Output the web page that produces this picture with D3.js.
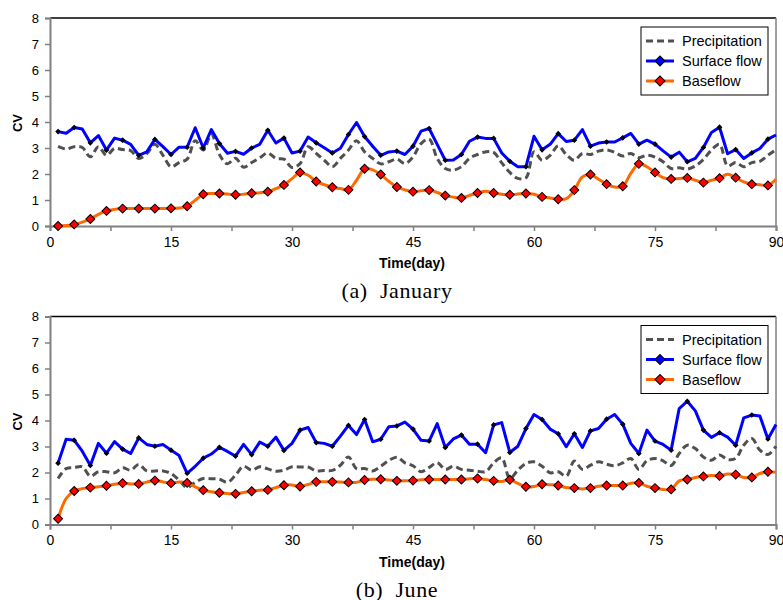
<!DOCTYPE html>
<html>
<head>
<meta charset="utf-8">
<script src="https://cdn.jsdelivr.net/npm/d3@7"></script>
<style>
  body { margin: 0; background: #fff; }
  svg { display: block; }
  .tick text { font-family: "Liberation Sans", Arial, sans-serif; }
  .caption { white-space: pre; }
</style>
</head>
<body>
<div id="plot"></div>
<script>
// ---- data (one value per day, day 1..90) ----
var xTicks = [0, 15, 30, 45, 60, 75, 90];
var yTicks = [0, 1, 2, 3, 4, 5, 6, 7, 8];
var seriesNames = ["Precipitation", "Surface flow", "Baseflow"];
var captions = ["(a)  January", "(b)  June"];

var janPrecip = [3.06,2.96,3.05,3.02,2.66,3.05,2.72,2.98,2.94,2.9,
  2.6,2.78,3.14,2.72,2.28,2.44,2.57,3.28,2.92,3.53,
  2.75,2.39,2.61,2.26,2.44,2.62,2.81,2.6,2.57,2.25,
  2.4,3.05,2.79,2.53,2.28,2.6,2.92,3.28,2.85,2.6,
  2.39,2.47,2.57,2.4,2.66,3.17,3.34,2.6,2.21,2.15,
  2.28,2.6,2.75,2.85,2.83,2.43,2.06,1.83,1.85,2.85,
  2.53,2.72,3.08,2.75,2.53,2.79,2.75,2.88,2.93,2.83,
  2.69,2.79,2.63,2.72,2.65,2.47,2.21,2.24,2.19,2.31,
  2.56,2.92,3.14,2.31,2.44,2.28,2.44,2.49,2.72,2.94];

var janSurface = [3.63,3.57,3.79,3.73,3.2,3.48,2.92,3.38,3.3,3.14,
  2.72,2.85,3.33,3.05,2.75,3.03,3.03,3.78,3.0,3.71,
  3.17,2.8,2.87,2.76,3.0,3.14,3.68,3.19,3.38,2.81,
  2.88,3.42,3.2,3.01,2.81,2.99,3.52,3.98,3.44,3.07,
  2.72,2.85,2.88,2.75,3.07,3.65,3.75,3.14,2.53,2.54,
  2.75,3.26,3.42,3.37,3.37,2.81,2.49,2.28,2.28,3.45,
  2.93,3.14,3.55,3.25,3.3,3.71,3.07,3.19,3.23,3.23,
  3.39,3.56,3.15,3.3,3.15,2.89,2.65,2.84,2.47,2.6,
  3.02,3.6,3.8,2.78,2.94,2.6,2.81,2.98,3.34,3.5];

var janBase = [0.0,0.02,0.06,0.15,0.27,0.45,0.58,0.64,0.67,0.67,
  0.67,0.67,0.67,0.67,0.68,0.69,0.76,0.99,1.22,1.25,
  1.25,1.23,1.2,1.22,1.26,1.28,1.32,1.44,1.58,1.82,
  2.06,1.95,1.71,1.59,1.49,1.44,1.39,1.76,2.2,2.16,
  1.98,1.72,1.5,1.39,1.32,1.36,1.38,1.29,1.17,1.11,
  1.08,1.18,1.27,1.34,1.27,1.22,1.2,1.23,1.25,1.22,
  1.12,1.08,1.03,1.05,1.38,1.89,1.98,1.8,1.61,1.5,
  1.53,2.02,2.39,2.28,2.06,1.86,1.81,1.83,1.85,1.76,
  1.67,1.76,1.84,1.99,1.86,1.7,1.61,1.59,1.56,1.8];

var junPrecip = [1.77,2.15,2.19,2.22,1.86,2.03,2.03,1.99,2.18,2.09,
  2.31,2.06,2.06,2.06,1.96,1.71,1.42,1.62,1.77,1.76,
  1.74,1.62,1.9,2.24,2.09,2.22,2.14,2.05,2.09,2.22,
  2.21,2.21,2.06,2.08,2.08,2.28,2.6,2.15,2.15,2.06,
  2.24,2.46,2.59,2.37,2.26,2.03,2.19,2.38,2.12,2.24,
  2.12,2.09,2.05,2.03,2.37,2.56,1.77,2.09,2.35,2.41,
  2.24,1.99,2.03,1.86,2.44,2.12,2.28,2.41,2.32,2.26,
  2.37,2.54,2.12,2.45,2.54,2.45,2.27,2.73,3.05,2.92,
  2.6,2.47,2.67,2.5,2.54,3.05,3.31,2.86,2.69,3.01];

var junSurface = [2.36,3.28,3.24,2.82,2.27,3.12,2.74,3.19,2.9,2.73,
  3.33,3.08,3.01,3.08,2.86,2.65,1.97,2.24,2.55,2.71,
  2.97,2.81,2.63,3.08,2.69,3.17,3.01,3.36,2.85,3.12,
  3.63,3.73,3.15,3.12,3.01,3.4,3.81,3.46,4.04,3.18,
  3.28,3.76,3.79,3.94,3.67,3.24,3.21,3.88,2.96,3.29,
  3.44,3.09,3.09,2.76,3.83,3.92,2.77,3.01,3.69,4.23,
  4.04,3.67,3.49,2.99,3.49,2.96,3.6,3.69,4.05,4.23,
  3.86,3.12,2.73,3.63,3.21,3.08,2.86,4.46,4.74,4.37,
  3.63,3.35,3.53,3.36,3.05,4.1,4.21,4.17,3.29,3.85];

var junBase = [0.22,1.0,1.29,1.38,1.42,1.45,1.49,1.55,1.59,1.56,
  1.56,1.63,1.69,1.64,1.59,1.63,1.6,1.45,1.32,1.26,
  1.22,1.19,1.18,1.23,1.28,1.32,1.33,1.42,1.51,1.52,
  1.46,1.54,1.64,1.64,1.64,1.63,1.62,1.62,1.71,1.74,
  1.74,1.71,1.68,1.68,1.69,1.72,1.73,1.73,1.73,1.73,
  1.73,1.76,1.77,1.73,1.68,1.65,1.72,1.58,1.45,1.46,
  1.55,1.53,1.5,1.42,1.4,1.37,1.4,1.47,1.5,1.5,
  1.5,1.59,1.6,1.47,1.4,1.35,1.35,1.68,1.73,1.81,
  1.85,1.88,1.87,1.94,1.92,1.81,1.81,1.96,2.03,2.01];

var svgWidth = 783;
var svgHeight = 600;

var svg = d3.select("#plot")
  .append("svg")
  .attr("width", svgWidth)
  .attr("height", svgHeight);

var colors = {precip: "#505050", surface: "#0000ff", base: "#ff6a00", baseMark: "#ff0000"};

function drawPanel(top, precip, surface, base, caption) {
  var left = 50, right = 776, height = 208;
  var g = svg.append("g").attr("transform", `translate(0, ${top})`);

  var x = d3.scaleLinear().domain([0, 90]).range([left, right]);
  var y = d3.scaleLinear().domain([0, 8]).range([height, 0]);

  // frame
  g.append("line").attr("x1", left).attr("x2", right).attr("y1", 0).attr("y2", 0)
    .attr("stroke", "#000").attr("stroke-width", 1.5);
  g.append("line").attr("x1", right).attr("x2", right).attr("y1", 0).attr("y2", height)
    .attr("stroke", "#808080").attr("stroke-width", 1.5);

  // axes
  var yAxis = d3.axisLeft(y).tickValues(yTicks).tickSize(5).tickPadding(6).tickFormat(d3.format("d"));
  var xAxis = d3.axisBottom(x).tickValues(d3.range(0, 90.1, 7.5)).tickSize(5).tickPadding(6)
    .tickFormat(d => xTicks.indexOf(d) >= 0 ? d : "");

  var ya = g.append("g").attr("transform", `translate(${left},0)`).call(yAxis);
  var xa = g.append("g").attr("transform", `translate(0,${height})`).call(xAxis);
  [ya, xa].forEach(a => {
    a.select(".domain").attr("stroke", "#808080").attr("stroke-width", 2);
    a.selectAll(".tick line").attr("stroke", "#808080").attr("stroke-width", 1.5);
    a.selectAll(".tick text").attr("fill", "#000").attr("font-size", 14);
  });
  ya.selectAll(".tick text").attr("font-size", 13);

  var days = precip.map((v, i) => i + 1);

  var smooth = d3.line().x((d, i) => x(days[i])).y(d => y(d)).curve(d3.curveCatmullRom.alpha(0.5));
  var straight = d3.line().x((d, i) => x(days[i])).y(d => y(d));

  // precipitation (dashed)
  g.append("path").datum(precip).attr("d", smooth)
    .attr("fill", "none").attr("stroke", colors.precip).attr("stroke-width", 3)
    .attr("stroke-dasharray", "7,4");

  // surface flow
  g.append("path").datum(surface).attr("d", straight)
    .attr("fill", "none").attr("stroke", colors.surface).attr("stroke-width", 3)
    .attr("stroke-linejoin", "round");

  g.selectAll(".sfMark").data(surface.filter((d, i) => i % 2 == 0)).enter()
    .append("path")
    .attr("class", "sfMark")
    .attr("d", d3.symbol().type(d3.symbolSquare).size(9))
    .attr("transform", (d, i) => `translate(${x(i * 2 + 1)},${y(d)}) rotate(45)`)
    .attr("fill", "#000033").attr("stroke", "#000").attr("stroke-width", 1);

  // baseflow
  g.append("path").datum(base).attr("d", smooth)
    .attr("fill", "none").attr("stroke", colors.base).attr("stroke-width", 3);

  g.selectAll(".bfMark").data(base.filter((d, i) => i % 2 == 0)).enter()
    .append("path")
    .attr("class", "bfMark")
    .attr("d", d3.symbol().type(d3.symbolSquare).size(40))
    .attr("transform", (d, i) => `translate(${x(i * 2 + 1)},${y(d)}) rotate(45)`)
    .attr("fill", colors.baseMark).attr("stroke", "#000").attr("stroke-width", 1);

  // labels
  g.append("text")
    .attr("transform", `translate(22, ${height / 2 + 1}) rotate(-90)`)
    .attr("text-anchor", "middle")
    .attr("font-family", "Liberation Sans, Arial, sans-serif")
    .attr("font-weight", "bold").attr("font-size", 13)
    .text("CV");

  g.append("text")
    .attr("x", 412).attr("y", height + 42)
    .attr("text-anchor", "middle")
    .attr("font-family", "Liberation Sans, Arial, sans-serif")
    .attr("font-weight", "bold").attr("font-size", 14)
    .text("Time(day)");

  g.append("text")
    .attr("class", "caption")
    .attr("x", 397).attr("y", height + 72)
    .attr("text-anchor", "middle")
    .attr("font-family", "Liberation Serif, DejaVu Serif, serif")
    .attr("font-size", 22)
    .attr("letter-spacing", 0.6)
    .text(caption);

  // legend
  var lg = g.append("g").attr("transform", "translate(641, 9)");
  lg.append("rect").attr("width", 127).attr("height", 68)
    .attr("fill", "#fff").attr("stroke", "#000").attr("stroke-width", 1);

  var rows = [
    {name: seriesNames[0], color: colors.precip, dash: "7,4", mark: null},
    {name: seriesNames[1], color: colors.surface, dash: null, mark: colors.surface},
    {name: seriesNames[2], color: colors.base, dash: null, mark: colors.baseMark}
  ];
  rows.forEach((r, i) => {
    var yy = 14 + i * 20;
    lg.append("line").attr("x1", 5).attr("x2", 33).attr("y1", yy).attr("y2", yy)
      .attr("stroke", r.color).attr("stroke-width", 3)
      .attr("stroke-dasharray", r.dash);
    if (r.mark) {
      lg.append("path")
        .attr("d", d3.symbol().type(d3.symbolSquare).size(50))
        .attr("transform", `translate(19,${yy}) rotate(45)`)
        .attr("fill", r.mark).attr("stroke", "#000").attr("stroke-width", 1);
    }
    lg.append("text").attr("x", 41).attr("y", yy + 5)
      .attr("font-family", "Liberation Sans, Arial, sans-serif")
      .attr("font-size", 14.5)
      .text(r.name);
  });
}

drawPanel(18, janPrecip, janSurface, janBase, captions[0]);
drawPanel(316.5, junPrecip, junSurface, junBase, captions[1]);
</script>
</body>
</html>
